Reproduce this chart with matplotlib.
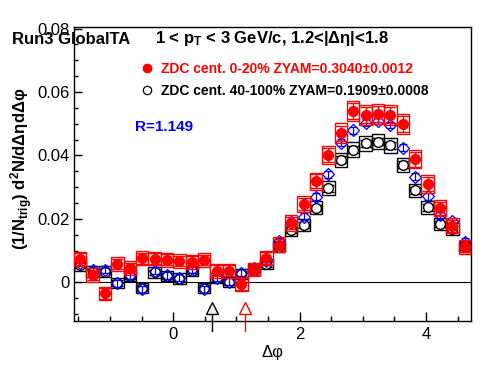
import numpy as np
import matplotlib
matplotlib.use("Agg")
import matplotlib.pyplot as plt

plt.rcParams['font.family'] = ['Liberation Sans', 'DejaVu Sans']
plt.rcParams['mathtext.default'] = 'regular'

# 32 bins in dphi from -pi/2 to 3pi/2
nbins = 32
edges = np.linspace(-np.pi / 2, 3 * np.pi / 2, nbins + 1)
dphi = 0.5 * (edges[1:] + edges[:-1])
binw = edges[1] - edges[0]

# ZDC cent. 0-20%
red_y = [0.0073, 0.0023, -0.0035, 0.0058, 0.0045, 0.0076, 0.0075, 0.0071,
         0.0067, 0.0065, 0.0070, 0.0036, 0.0036, -0.0005, 0.0041, 0.0076,
         0.0119, 0.0188, 0.0247, 0.0319, 0.0402, 0.0470, 0.0540, 0.0528,
         0.0531, 0.0528, 0.0499, 0.0388, 0.0310, 0.0233, 0.0179, 0.0112]
red_stat = [0.0018, 0.0017, 0.0017, 0.0017, 0.0017, 0.0017, 0.0017, 0.0017,
            0.0017, 0.0017, 0.0017, 0.0017, 0.0017, 0.0018, 0.0018, 0.0018,
            0.0018, 0.0019, 0.0020, 0.0021, 0.0022, 0.0024, 0.0026, 0.0026,
            0.0026, 0.0026, 0.0025, 0.0023, 0.0021, 0.0020, 0.0019, 0.0018]
red_sys = [0.0022, 0.0021, 0.0021, 0.0022, 0.0022, 0.0022, 0.0022, 0.0022,
           0.0022, 0.0022, 0.0022, 0.0021, 0.0021, 0.0021, 0.0021, 0.0022,
           0.0023, 0.0025, 0.0026, 0.0027, 0.0029, 0.0031, 0.0032, 0.0032,
           0.0032, 0.0032, 0.0031, 0.0029, 0.0027, 0.0025, 0.0024, 0.0022]

# ZDC cent. 40-100%
blk_y = [0.0053, 0.0034, 0.0034, -0.0003, 0.0020, -0.0019, 0.0031, 0.0020,
         0.0012, 0.0036, -0.0019, 0.0013, 0.0002, 0.0026, 0.0040, 0.0058,
         0.0112, 0.0165, 0.0180, 0.0235, 0.0297, 0.0386, 0.0418, 0.0438,
         0.0443, 0.0432, 0.0370, 0.0290, 0.0236, 0.0184, 0.0168, 0.0111]
blk_stat = [0.0009, 0.0009, 0.0009, 0.0009, 0.0009, 0.0009, 0.0009, 0.0009,
            0.0009, 0.0009, 0.0009, 0.0009, 0.0009, 0.0009, 0.0009, 0.0009,
            0.0010, 0.0010, 0.0010, 0.0010, 0.0011, 0.0011, 0.0011, 0.0011,
            0.0011, 0.0011, 0.0011, 0.0010, 0.0010, 0.0010, 0.0010, 0.0010]
blk_sys = [0.0017, 0.0016, 0.0016, 0.0016, 0.0016, 0.0016, 0.0016, 0.0016,
           0.0016, 0.0016, 0.0016, 0.0016, 0.0016, 0.0016, 0.0016, 0.0017,
           0.0018, 0.0019, 0.0019, 0.0020, 0.0021, 0.0023, 0.0024, 0.0024,
           0.0024, 0.0024, 0.0023, 0.0021, 0.0020, 0.0019, 0.0018, 0.0017]

# 40-100% scaled by R
blue_y = [0.0061, 0.0039, 0.0039, -0.0003, 0.0023, -0.0022, 0.0036, 0.0023,
          0.0014, 0.0041, -0.0022, 0.0015, 0.0002, 0.0030, 0.0046, 0.0067,
          0.0129, 0.0190, 0.0207, 0.0270, 0.0341, 0.0440, 0.0480, 0.0503,
          0.0509, 0.0496, 0.0425, 0.0333, 0.0271, 0.0211, 0.0193, 0.0128]
blue_stat = [0.0011] * nbins

# ZYAM minimum positions (arrows)
arrow_x = [0.62, 1.13]
arrow_col = ['black', 'red']
arrow_fill = ['#eeeeee', 'white']

W, H = 496, 374
fig = plt.figure(figsize=(W / 100, H / 100), dpi=100)
ax = fig.add_axes([74 / W, 1 - 321 / H, 397 / W, 294 / H])


def fx(x):
    return x / W


def fy(y):
    return 1 - y / H


red_y = np.array(red_y)
blk_y = np.array(blk_y)
red_sys = np.array(red_sys)
blk_sys = np.array(blk_sys)

ax.axhline(0, color='black', lw=0.8, zorder=1)

# systematic boxes
ax.bar(dphi, 2 * blk_sys, bottom=blk_y - blk_sys, width=binw, fill=False,
       edgecolor='black', linewidth=1.0, zorder=2)
ax.errorbar(dphi, blk_y, yerr=blk_stat, fmt='o', ms=7, mfc='white', mec='black',
            mew=1.0, ecolor='black', elinewidth=1.0, capsize=4, zorder=3)
ax.errorbar(dphi, blue_y, yerr=blue_stat, fmt='D', ms=6, mfc='none', mec='#0000ff',
            mew=0.9, ecolor='#0000ff', elinewidth=0.9, capsize=3, zorder=4)
ax.bar(dphi, 2 * red_sys, bottom=red_y - red_sys, width=binw, fill=False,
       edgecolor='#ff0000', linewidth=1.0, zorder=5)
ax.errorbar(dphi, red_y, yerr=red_stat, fmt='o', ms=7, mfc='#ff0000', mec='#ff0000',
            ecolor='#ff0000', elinewidth=1.0, capsize=4, zorder=6)

for xa, c, f in zip(arrow_x, arrow_col, arrow_fill):
    ax.plot([xa, xa], [-0.0097, -0.0152], color=c, lw=1.0, clip_on=False, zorder=7)
    ax.plot([xa], [-0.0080], marker='^', ms=8, mfc=f, mec=c, mew=1.0,
            clip_on=False, zorder=8)

ax.set_xlim(-np.pi / 2, 3 * np.pi / 2)
ax.set_ylim(-0.0122, 0.0805)
ax.set_xticks([0, 2, 4])
ax.set_xticks(np.arange(-1.5, 4.75, 0.5), minor=True)
ax.set_yticks([0, 0.02, 0.04, 0.06, 0.08])
ax.set_yticklabels(['0', '0.02', '0.04', '0.06', '0.08'])
ax.set_yticks(np.arange(-0.01, 0.081, 0.005), minor=True)
ax.tick_params(which='both', direction='in', top=False, right=False,
               labelsize=12, width=1.0)
ax.tick_params(axis='y', which='major', length=6, pad=3)
ax.tick_params(axis='y', which='minor', length=3)
ax.tick_params(axis='x', which='major', length=6.5, pad=4)
ax.tick_params(axis='x', which='minor', length=3.5)
for s in ax.spines.values():
    s.set_linewidth(1.0)

fig.text(fx(272), fy(352), 'Δφ', fontsize=12, ha='center', va='center')
fig.text(fx(22), fy(169), '(1/N$_{trig}$) d$^{2}$N/dΔηdΔφ', fontsize=12,
         fontweight='bold', rotation=90, ha='center', va='center')

fig.text(fx(12), fy(43.5), 'Run3 GlobalTA', fontsize=12, fontweight='bold',
         ha='left', va='baseline')
fig.text(fx(155), fy(43.5), '1 < p$_{T}$ < 3 GeV/c, 1.2<|Δη|<1.8', fontsize=12,
         fontweight='bold', ha='left', va='baseline')

fig.lines.append(plt.Line2D([fx(147)], [fy(68)], marker='o', ms=6, mfc='#ff0000',
                            mec='#ff0000', transform=fig.transFigure))
fig.lines.append(plt.Line2D([fx(147)], [fy(90)], marker='o', ms=6, mfc='white',
                            mec='black', mew=0.9, transform=fig.transFigure))
fig.text(fx(161), fy(73), 'ZDC cent. 0-20% ZYAM=0.3040±0.0012', fontsize=10,
         fontweight='bold', color='#ff0000', ha='left', va='baseline')
fig.text(fx(161), fy(95), 'ZDC cent. 40-100% ZYAM=0.1909±0.0008', fontsize=10,
         fontweight='bold', color='black', ha='left', va='baseline')
fig.text(fx(135), fy(131), 'R=1.149', fontsize=11, fontweight='bold',
         color='#0000ff', ha='left', va='baseline')

fig.savefig('out.png', dpi=100)
